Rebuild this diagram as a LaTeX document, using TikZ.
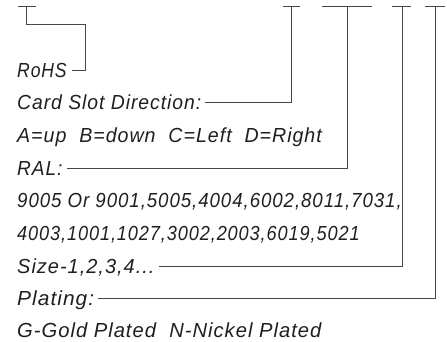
\documentclass[tikz,border=0pt]{standalone}
\usepackage{graphicx}
\usepackage{fontspec}
\setmainfont{Liberation Sans}
\newfontfamily\lblface{Liberation Sans}[LetterSpace=5]
\newcommand\lblfont{\lblface\fontsize{18.5}{22}\selectfont\itshape}
\newcommand\lbltext[2][1]{\scalebox{#1}[1.1]{#2}}
\begin{document}
\begin{tikzpicture}[x=1pt,y=-1pt,
  lbl/.style={anchor=west, inner sep=0pt, text height=14.5pt, text depth=0pt, font=\lblfont, text=black!88},
  conn/.style={draw=black!72, line width=1pt},
  topbar/.style={draw=black!72, line width=1pt}]
\useasboundingbox (0,0) rectangle (447,341);
% labels
\node[lbl] (rohs)    at (17,70)  {\lbltext[0.95]{RoHS}};
\node[lbl] (card)    at (17,102) {\lbltext[1.045]{Card Slot Direction:}};
\node[lbl] (dir)     at (17,135) {\lbltext[1.06]{A=up\ \ B=down\ \ C=Left\ \ D=Right}};
\node[lbl] (ral)     at (17,168) {\lbltext[1.03]{RAL:}};
\node[lbl] (ralA)    at (17,200) {\lbltext[1.01]{9005 Or 9001,5005,4004,6002,8011,7031,}};
\node[lbl] (ralB)    at (17,233) {\lbltext[0.98]{4003,1001,1027,3002,2003,6019,5021}};
\node[lbl] (size)    at (17,266) {\lbltext[1.08]{Size-1,2,3,4...}};
\node[lbl] (plating) at (17,298) {\lbltext[1.13]{Plating:}};
\node[lbl] (plat)    at (17,330) {\lbltext[1.09]{G-Gold Plated\ \ N-Nickel Plated}};
% bar tops
\coordinate (b1) at (26,6);
\coordinate (b2) at (291,6);
\coordinate (b3) at (347,6);
\coordinate (b4) at (402,6);
\coordinate (b5) at (435,6);
\coordinate (rk) at (85,24);
\draw[topbar] (18,6) -- (36,6);
\draw[topbar] (283,6) -- (300,6);
\draw[topbar] (322,6) -- (372,6);
\draw[topbar] (392,6) -- (411,6);
\draw[topbar] (425,6) -- (445,6);
% connectors
\draw[conn] ([xshift=5pt]rohs.east) -| (rk) -| (b1);
\draw[conn] ([xshift=4pt]card.east) -| (b2);
\draw[conn] ([xshift=4pt]ral.east) -| (b3);
\draw[conn] ([xshift=4pt]size.east) -| (b4);
\draw[conn] ([xshift=4pt]plating.east) -| (b5);
\end{tikzpicture}
\end{document}
